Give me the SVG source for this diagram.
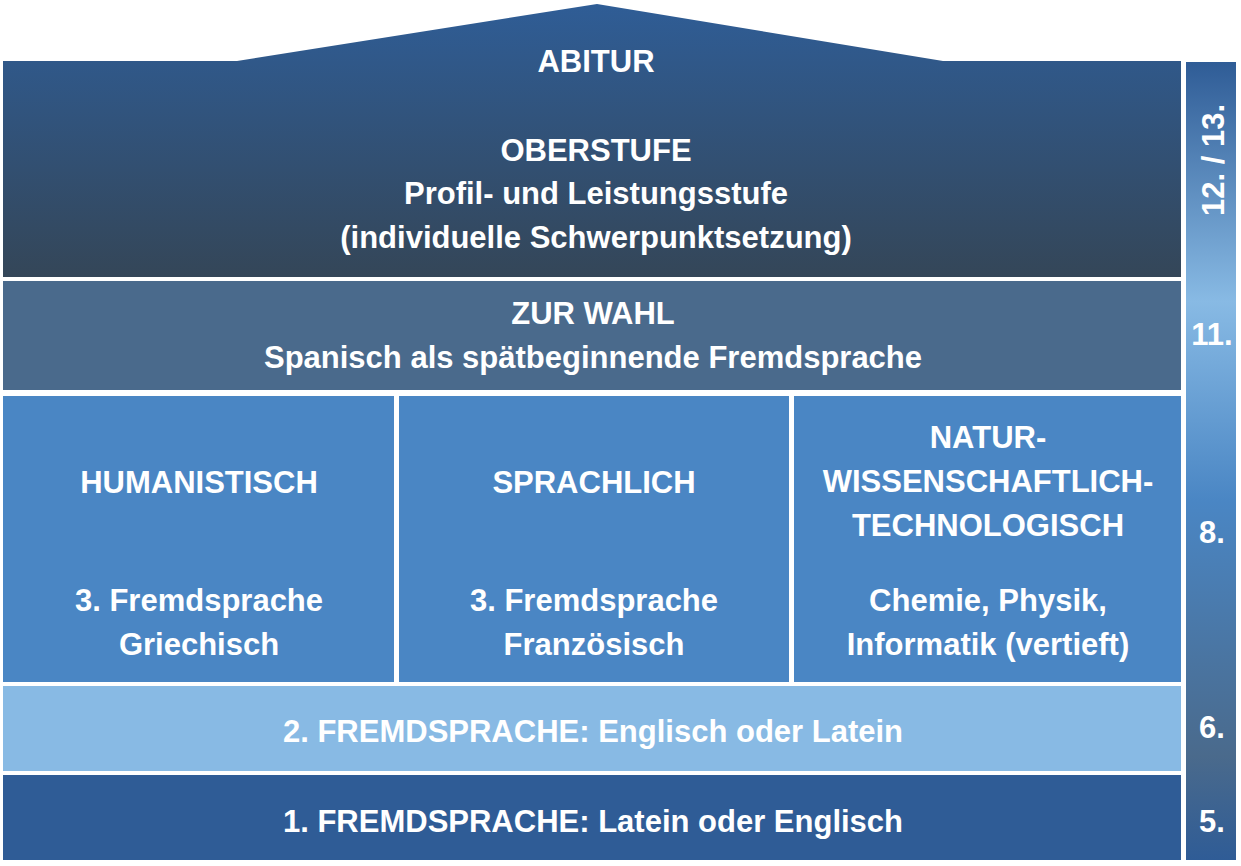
<svg xmlns="http://www.w3.org/2000/svg" width="1241" height="866" viewBox="0 0 1241 866">
<style>
text{font-family:"Liberation Sans",Arial,sans-serif;font-weight:bold;font-size:31px;fill:#fff;text-anchor:middle}
</style>
<defs>
<linearGradient id="top" x1="0" y1="0" x2="0" y2="1"><stop offset="0" stop-color="#2f5d96"/><stop offset="1" stop-color="#344658"/></linearGradient>
<linearGradient id="bar" x1="0" y1="0" x2="0" y2="1"><stop offset="0" stop-color="#2f5c96"/><stop offset="0.3" stop-color="#88bae4"/><stop offset="0.55" stop-color="#4a86c4"/><stop offset="0.87" stop-color="#4a6a8c"/><stop offset="1" stop-color="#2f5c96"/></linearGradient>
</defs>
<rect width="1241" height="866" fill="#fff"/>
<g id="oberstufe">
<polygon points="3,61 237,61 597,4 943,61 1181,61 1181,277 3,277" fill="url(#top)"/>
<text x="596" y="72">ABITUR</text>
<text x="596" y="161">OBERSTUFE</text>
<text x="596" y="204">Profil- und Leistungsstufe</text>
<text x="596" y="248">(individuelle Schwerpunktsetzung)</text>
</g>
<g id="zurwahl">
<rect x="3" y="281" width="1178" height="109" fill="#4a6a8c"/>
<text x="593" y="324">ZUR WAHL</text>
<text x="593" y="368">Spanisch als spätbeginnende Fremdsprache</text>
</g>
<g id="humanistisch">
<rect x="3" y="396" width="391" height="286" fill="#4a86c4"/>
<text x="199" y="493">HUMANISTISCH</text>
<text x="199" y="611">3. Fremdsprache</text>
<text x="199" y="655">Griechisch</text>
</g>
<g id="sprachlich">
<rect x="399" y="396" width="390" height="286" fill="#4a86c4"/>
<text x="594" y="493">SPRACHLICH</text>
<text x="594" y="611">3. Fremdsprache</text>
<text x="594" y="655">Französisch</text>
</g>
<g id="natur">
<rect x="794" y="396" width="387" height="286" fill="#4a86c4"/>
<text x="988" y="448">NATUR-</text>
<text x="988" y="492">WISSENSCHAFTLICH-</text>
<text x="988" y="536">TECHNOLOGISCH</text>
<text x="988" y="611">Chemie, Physik,</text>
<text x="988" y="655">Informatik (vertieft)</text>
</g>
<g id="fs2">
<rect x="3" y="686" width="1178" height="85" fill="#88bae4"/>
<text x="593" y="742">2. FREMDSPRACHE: Englisch oder Latein</text>
</g>
<g id="fs1">
<rect x="3" y="775" width="1178" height="85" fill="#2f5c96"/>
<text x="593" y="832">1. FREMDSPRACHE: Latein oder Englisch</text>
</g>
<g id="stufen">
<rect x="1186" y="62" width="50" height="798" fill="url(#bar)"/>
<text transform="translate(1224,160) rotate(-90)">12. / 13.</text>
<text x="1212" y="345">11.</text>
<text x="1212" y="543">8.</text>
<text x="1212" y="738">6.</text>
<text x="1212" y="832">5.</text>
</g>
<g id="connectors"/>
</svg>
